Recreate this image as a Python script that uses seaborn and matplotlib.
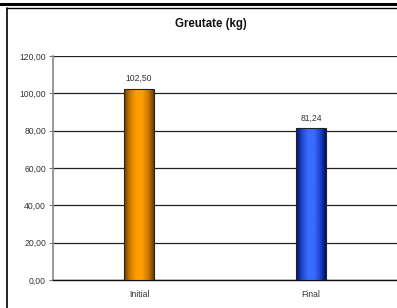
import numpy as np
import matplotlib
matplotlib.use("Agg")
import matplotlib.pyplot as plt
import seaborn as sns
import pandas as pd
from matplotlib.colors import LinearSegmentedColormap
from matplotlib.lines import Line2D

categories = ["Initial", "Final"]
values = [102.50, 81.24]
title = "Greutate (kg)"
yticks = [0, 20, 40, 60, 80, 100, 120]

sns.set_style("white")
plt.rcParams["font.family"] = ["Liberation Sans", "DejaVu Sans"]

fig = plt.figure(figsize=(3.97, 3.08), dpi=100)
ax = fig.add_axes([53/397, 28/308, 344/397, 224/308])

df = pd.DataFrame({"cat": categories, "val": values})
sns.barplot(data=df, x="cat", y="val", ax=ax, width=0.17, color="#FF9900",
            edgecolor="#222222", linewidth=0.8, zorder=3)

ax.set_ylim(0, 120)
ax.set_xlim(-0.5, 1.5)
ax.set_yticks(yticks)
ax.set_yticklabels([f"{v:.2f}".replace(".", ",") for v in yticks], fontsize=6.2, color="#333333")
ax.tick_params(axis="x", length=0, labelsize=6.2, pad=7, colors="#333333")
ax.tick_params(axis="y", length=3, width=0.8, color="#777777", pad=2, direction="out", left=True)
ax.set_xlabel("")
ax.set_ylabel("")
ax.yaxis.grid(True, color="#222222", linewidth=0.9)
ax.set_axisbelow(True)
for s in ["top", "right"]:
    ax.spines[s].set_visible(False)
ax.spines["left"].set_color("#888888")
ax.spines["left"].set_linewidth(1.2)
ax.spines["bottom"].set_color("#111111")
ax.spines["bottom"].set_linewidth(1.0)

# cylinder-like gradients
cmaps = [
    LinearSegmentedColormap.from_list("o", ["#6B3C00", "#D07A00", "#FF9C00", "#FFA000", "#D07A00", "#6B3C00"]),
    LinearSegmentedColormap.from_list("b", ["#001060", "#1F45D0", "#3A6CFF", "#3A6CFF", "#1F45D0", "#001060"]),
]
grad = np.linspace(0, 1, 256).reshape(1, -1)
for patch, cm, v in zip(ax.patches, cmaps, values):
    x0, y0 = patch.get_x(), patch.get_y()
    w, h = patch.get_width(), patch.get_height()
    im = ax.imshow(grad, cmap=cm, aspect="auto", extent=[x0, x0 + w, y0, y0 + h], zorder=3.5)
    im.set_clip_path(patch)
    patch.set_facecolor("none")
    patch.set_zorder(4)
    ax.annotate(f"{v:.2f}".replace(".", ","), (x0 + w / 2, y0 + h), xytext=(0, 4),
                textcoords="offset points", ha="center", va="bottom", fontsize=6.2, color="#333333")
ax.set_xlim(-0.5, 1.5)
ax.set_ylim(0, 120)

fig.text(0.53, 1 - 24/308, title, ha="center", va="center", fontsize=8.3, fontweight="bold", color="#111111")

# outer frame lines
fig.add_artist(Line2D([0, 1], [1 - 3.5/308, 1 - 3.5/308], color="black", linewidth=2.2, transform=fig.transFigure))
fig.add_artist(Line2D([6.5/397, 1], [1 - 7.5/308, 1 - 7.5/308], color="black", linewidth=1.0, transform=fig.transFigure))
fig.add_artist(Line2D([6.5/397, 6.5/397], [0, 1 - 7.5/308], color="black", linewidth=1.2, transform=fig.transFigure))

fig.savefig("out.png", dpi=100)
